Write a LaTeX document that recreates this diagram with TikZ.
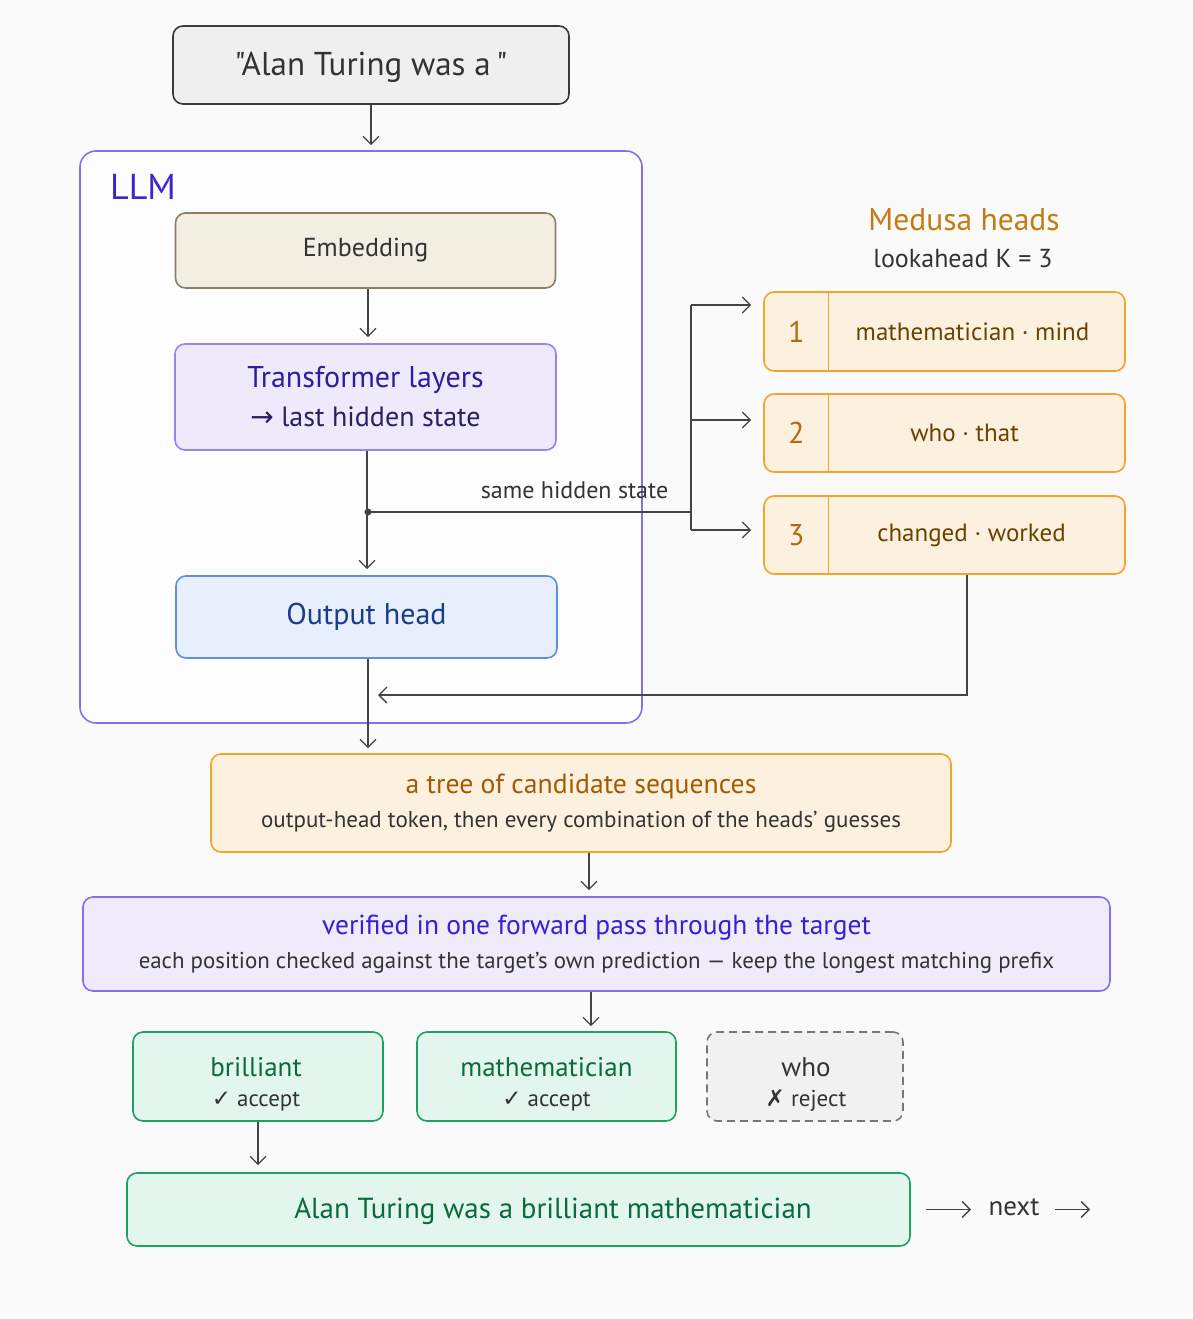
\documentclass[tikz,border=0pt]{standalone}
\usepackage{fontspec}
\setmainfont[Ligatures=TeXOff]{PT Sans}
\newfontfamily\symf{DejaVu Sans}
\usetikzlibrary{arrows.meta,calc}
\definecolor{bgc}{HTML}{FAFAFA}
\definecolor{ink}{HTML}{333333}
\definecolor{arrc}{HTML}{444444}
\definecolor{inFill}{HTML}{EFEFEF}
\definecolor{inLine}{HTML}{3A3A3A}
\definecolor{llmLine}{HTML}{8B6CF0}
\definecolor{llmText}{HTML}{3B28CC}
\definecolor{embFill}{HTML}{F3EEE2}
\definecolor{embLine}{HTML}{8F7E66}
\definecolor{trFill}{HTML}{EEEAFC}
\definecolor{trLine}{HTML}{9A82F2}
\definecolor{trText}{HTML}{2E1D9E}
\definecolor{trSub}{HTML}{2A2060}
\definecolor{outFill}{HTML}{E7EFFC}
\definecolor{outLine}{HTML}{5F8FE0}
\definecolor{outText}{HTML}{1B3C8C}
\definecolor{hdFill}{HTML}{FCF1DE}
\definecolor{hdLine}{HTML}{F2A52A}
\definecolor{hdTitle}{HTML}{C57A12}
\definecolor{hdNum}{HTML}{B06A10}
\definecolor{hdText}{HTML}{6A4200}
\definecolor{trTitle}{HTML}{A45A00}
\definecolor{vfFill}{HTML}{EFEBFB}
\definecolor{vfLine}{HTML}{8A6CF0}
\definecolor{vfText}{HTML}{3A1FD0}
\definecolor{gFill}{HTML}{E3F6EE}
\definecolor{gLine}{HTML}{1FA065}
\definecolor{gText}{HTML}{0B6B3B}
\definecolor{whoFill}{HTML}{F1F1F1}
\definecolor{whoLine}{HTML}{777777}
\tikzset{
  box/.style={draw, rounded corners=10pt, line width=1.6pt, align=center, inner sep=0pt, text=ink},
  arr/.style={draw=arrc, line width=1.3pt, -{Straight Barb[length=8pt,width=16pt,line width=1.3pt]}},
  lin/.style={draw=arrc, line width=1.3pt},
}
\begin{document}
\begin{tikzpicture}[x=1pt,y=-1pt]
\fill[bgc] (0,0) rectangle (1193,1319);
\useasboundingbox (0,0) rectangle (1193,1319);

% input
\node[box, fill=inFill, draw=inLine, minimum width=396pt, minimum height=78pt] (in) at (371,65) {};
\node[text=ink, font=\fontsize{33}{40}\selectfont] (intext) at (371,67) {"Alan Turing was a\,"};

% LLM container
\node[box, fill=white!60!bgc, draw=llmLine, rounded corners=16pt, minimum width=562pt, minimum height=572pt] (llm) at (361,437) {};
\node[text=llmText, font=\fontsize{36}{42}\selectfont, anchor=center] (llmlab) at (143,187) {LLM};

\node[box, fill=embFill, draw=embLine, minimum width=380pt, minimum height=75pt, font=\fontsize{26}{31}\selectfont] (emb) at (365.5,250.5) {Embedding};
\node[box, fill=trFill, draw=trLine, minimum width=381pt, minimum height=106pt, font=\fontsize{28}{39}\selectfont] (tr) at (365.5,397)
  {{\fontsize{30}{36}\selectfont\color{trText}Transformer layers}\\{\color{trSub}{\symf →} last hidden state}};
\node[box, fill=outFill, draw=outLine, minimum width=381pt, minimum height=82pt, text=outText, font=\fontsize{30}{36}\selectfont] (out) at (366.5,617) {Output head};

% Medusa heads
\node[text=hdTitle, font=\fontsize{31.5}{38}\selectfont] (mt) at (964,220) {Medusa heads};
\node[text=ink, font=\fontsize{26}{31}\selectfont] (mk) at (963,259) {lookahead K = 3};
\foreach \i/\y/\h/\t/\dx in {1/331.5/79/mathematician · mind/28, 2/433/78/who · that/20, 3/535/78/changed · worked/27}{
  \node[box, fill=hdFill, draw=hdLine, minimum width=361pt, minimum height=\h pt] (h\i) at (944.5,\y) {};
  \draw[hdLine, line width=1pt] ([xshift=65pt]h\i.north west) -- ([xshift=65pt]h\i.south west);
  \node[text=hdNum, font=\fontsize{30}{36}\selectfont] (hn\i) at ([xshift=33pt]h\i.west) {\i};
  \node[text=hdText, font=\fontsize{25}{30}\selectfont] (ht\i) at ([xshift=\dx pt]h\i.center) {\t};
}

% tree
\node[box, fill=hdFill, draw=hdLine, minimum width=740pt, minimum height=98pt, font=\fontsize{23}{34}\selectfont] (tree) at (581,803)
  {{\fontsize{27.7}{33}\selectfont\color{trTitle}a tree of candidate sequences}\\output-head token, then every combination of the heads’ guesses};
% verified
\node[box, fill=vfFill, draw=vfLine, minimum width=1027pt, minimum height=94pt, font=\fontsize{22.9}{34}\selectfont] (ver) at (596.5,944)
  {{\fontsize{27.5}{33}\selectfont\color{vfText}verified in one forward pass through the target}\\each position checked against the target’s own prediction — keep the longest matching prefix};

% results
\node[box, fill=gFill, draw=gLine, minimum width=250pt, minimum height=89pt] (br) at (258,1076.5) {};
\node[text=ink, align=center, font=\fontsize{23}{30}\selectfont] (brt) at (256,1084)
  {{\fontsize{27}{32}\selectfont\color{gText}brilliant}\\{\symf ✓} accept};
\node[box, fill=gFill, draw=gLine, minimum width=259pt, minimum height=89pt] (ma) at (546.5,1076.5) {};
\node[text=ink, align=center, font=\fontsize{23}{30}\selectfont] (mat) at (546.5,1084)
  {{\fontsize{27}{32}\selectfont\color{gText}mathematician}\\{\symf ✓} accept};
\node[box, fill=whoFill, draw=whoLine, dashed, dash pattern=on 8pt off 5pt, minimum width=196pt, minimum height=89pt] (who) at (805,1076.5) {};
\node[text=ink, align=center, font=\fontsize{23}{30}\selectfont] (whot) at (806,1084)
  {{\fontsize{27}{32}\selectfont who}\\{\symf ✗} reject};
\node[box, fill=gFill, draw=gLine, minimum width=783pt, minimum height=73pt] (fin) at (518.5,1209.5) {};
\node[text=gText, font=\fontsize{29}{35}\selectfont] (fint) at (553,1211) {Alan Turing was a brilliant mathematician};
\node[text=ink, font=\fontsize{27}{32}\selectfont] (next) at (1014,1207) {next};
\coordinate (nextend) at (1090,1209.5);

% connectors
\draw[arr, shorten >=5pt] (in.south) -- (in.south |- llm.north);
\draw[arr, shorten >=6pt] ([xshift=2.5pt]emb.south) -- ([xshift=2.5pt]emb.south |- tr.north);
\coordinate (j) at (368,512);
\coordinate (bus) at (691,512);
\draw[arr, shorten >=6pt] ([xshift=1.5pt]tr.south) -- ([xshift=1.5pt]tr.south |- out.north);
\fill[arrc] (j) circle (3.5pt);
\draw[lin] (j) -- (bus) node[midway, above=9pt, text=ink, font=\fontsize{24}{29}\selectfont, xshift=45pt] (shs) {same hidden state};
\draw[lin] (691,305) -- (691,530);
\draw[arr, shorten >=12pt] (691,305) -- (h1.west |- 0,305);
\draw[arr, shorten >=12pt] (691,420) -- (h2.west |- 0,420);
\draw[arr, shorten >=12pt] (691,530) -- (h3.west |- 0,530);
\coordinate (m) at (368,695);
\draw[arr, shorten >=10pt] ([xshift=22.5pt]h3.south) |- (m);
\draw[arr, shorten >=5pt] ([xshift=1.5pt]out.south) -- ([xshift=1.5pt]out.south |- tree.north);
\draw[arr, shorten >=6pt] ([xshift=8pt]tree.south) -- ([xshift=8pt]tree.south |- ver.north);
\draw[arr, shorten >=5pt] ([xshift=-5.5pt]ver.south) -- ([xshift=-5.5pt]ver.south |- ma.north);
\draw[arr, shorten >=7pt] (br.south) -- (br.south |- fin.north);
\draw[arr, shorten <=15pt, shorten >=14pt] (fin.east) -- (next.west |- fin.east);
\draw[arr, shorten <=12pt] (next.east |- nextend) -- (nextend);
\end{tikzpicture}
\end{document}
